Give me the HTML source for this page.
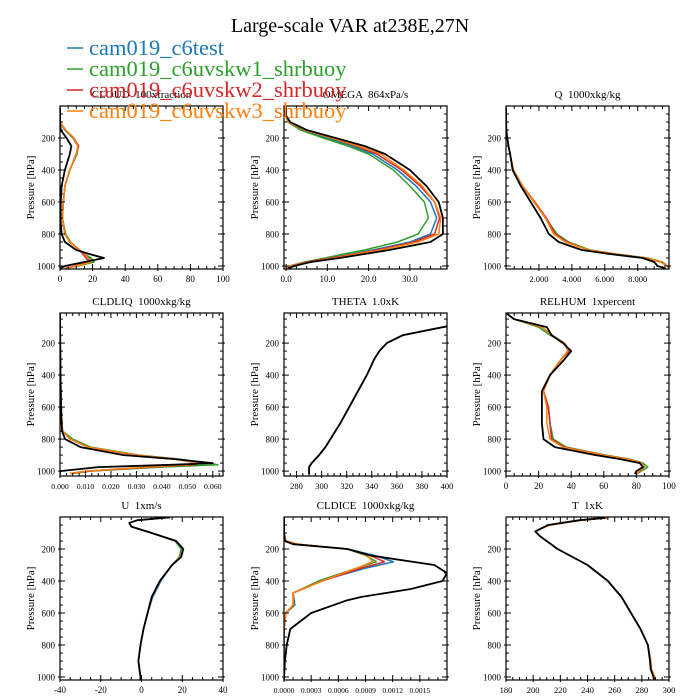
<!DOCTYPE html>
<html><head><meta charset="utf-8"><style>
html,body{margin:0;padding:0;background:#fff;}
svg{display:block;}
text{font-family:"Liberation Serif",serif;fill:#000;white-space:pre;}
.leg{font-family:"Liberation Serif",serif;font-size:22.5px;}
</style></head><body>
<svg id="chart" width="700" height="700" viewBox="0 0 700 700">
<text x="350" y="32" text-anchor="middle" font-size="20">Large-scale VAR at238E,27N</text>
<g id="legend"></g>
<g id="panels"></g>
</svg>
<script>
const runNames = ["cam019_c6test","cam019_c6uvskw1_shrbuoy","cam019_c6uvskw2_shrbuoy","cam019_c6uvskw3_shrbuoy"];
const runColors = ["#1f77b4","#2ca02c","#d62728","#ff7f0e"];

// CLOUD
const cloudP = [10,100,150,200,250,300,400,500,600,700,800,850,900,925,950,975,1000,1015];
const cloudBlue  = [0,0,3,8,11,10,6,3,2,1.5,3,6,12,15,18,19,10,3];
const cloudGreen = [0,0,3,8,11,10.5,6,3,2,1.5,3.5,6.5,12,15,19,21,11,3];
const cloudRed   = [0,0,3.5,8.5,11.5,10,6,3,2,1.5,3,6,12,14,16,18,9,3];
const cloudOrange= [0,0,3.5,8.5,11,10,6,3,2,1.5,3,6,12,15,17,19,10,3];
const cloudObs   = [0,0,0.5,4,7,6,3,1,0.5,0.3,1,3,10,18,27,15,3,0];
// OMEGA
const omegaP = [10,60,100,150,200,250,300,400,500,600,700,800,850,900,925,950,975,1000,1015];
const omegaBlue  = [0,0,0.5,4,10,16,21,27,31.5,35,36.5,35,30,21,16,11,5,1,0];
const omegaGreen = [0,0,0.4,3.5,9,15,20,26,30,33.5,34.5,32,27,19,14,9.5,4.5,0.8,0];
const omegaRed   = [0,0,0.6,4.5,11,17,22,28,32.5,36,37.2,36,31,22,16.5,11,5,1,0];
const omegaOrange= [0,0,0.6,4.5,11,17.5,23,28.5,33,36,37.5,37,32,23,17,12,5.5,1,0];
const omegaObs   = [0,0,1,5,12,19,24,30,34,37,38,38,35,25,19,13,6,2,0.5];
// Q
const qP = [10,100,150,200,250,300,400,500,600,700,800,850,900,925,950,975,1000,1015];
const qBlue  = [0,0.01,0.02,0.08,0.15,0.25,0.45,1.0,1.7,2.4,3.0,3.7,5.0,6.6,8.5,9.4,9.8,9.9];
const qGreen = [0,0.01,0.02,0.08,0.15,0.25,0.45,1.0,1.7,2.4,3.1,3.8,5.1,6.7,8.6,9.5,9.8,9.9];
const qRed   = [0,0.01,0.02,0.08,0.15,0.25,0.45,1.0,1.75,2.45,3.0,3.7,5.0,6.6,8.5,9.4,9.8,9.9];
const qOrange= [0,0.01,0.02,0.08,0.15,0.25,0.45,1.0,1.7,2.4,2.9,3.6,5.0,6.6,8.5,9.4,9.8,9.9];
const qObs   = [0,0.01,0.02,0.08,0.15,0.25,0.4,0.9,1.5,2.1,2.6,3.2,4.6,6.3,8.3,9.0,9.2,9.7];
// CLDLIQ
const liqP = [12,400,600,700,750,800,850,900,925,950,960,975,1000,1015];
const liqBlue  = [0,0.0002,0.0005,0.0008,0.001,0.004,0.011,0.03,0.045,0.055,0.05,0.035,0.01,0.004];
const liqGreen = [0,0.0002,0.0005,0.0008,0.001,0.005,0.012,0.031,0.047,0.058,0.062,0.04,0.012,0.005];
const liqRed   = [0,0.0002,0.0005,0.0008,0.001,0.004,0.011,0.03,0.046,0.056,0.052,0.036,0.011,0.004];
const liqOrange= [0,0.0002,0.0005,0.0008,0.001,0.004,0.011,0.03,0.045,0.054,0.05,0.034,0.01,0.004];
const liqObs   = [0,0.0002,0.0004,0.0006,0.0008,0.002,0.008,0.025,0.045,0.06,0.045,0.015,0,0];
// THETA
const thP = [12,50,95,150,200,250,300,400,500,600,700,800,850,900,925,950,975,1000,1019];
const thBlue  = [700,500,400,365,352,346,342,336,329,322,315,307,303,298,295,292,290,290,290];
const thObs   = [700,500,400,365,352,346,342,336,329,322,315,307,303,298,295,292,290,290,290];
// RELHUM
const rhP = [12,50,100,150,200,250,300,400,500,600,700,800,850,900,925,950,975,1000,1019];
const rhBlue  = [0,5,22,28,36,38,34,27,23,26,27,28,36,60,75,83,85,82,80];
const rhGreen = [0,5,20,27,36,38,34,27,23,26,27,29,37,61,76,84,87,83,80];
const rhRed   = [0,5,22,28,36,39,34,27,23,26,27,28,36,60,75,83,85,82,80];
const rhOrange= [0,5,22,28,36,38,34,27,23,25,25,27,35,59,75,83,85,82,80];
const rhObs   = [0,5,25,28,35,40,36,27,22,22,22,23,30,55,70,82,84,80,79];
// U
const uP = [2,20,37,60,100,150,200,250,300,400,500,600,700,800,900,1000,1015];
const uBlue  = [14,-2,-6,-5,5,17,20,19,15,9.5,5.5,3,1,-0.5,-1.5,-0.5,-0.5];
const uGreen = [14,-2,-6,-5,5,16.5,19.5,18.5,15,9,5,3,1,-0.5,-1.5,-0.5,-0.5];
const uRed   = [14,-2,-6,-5,5,17,20.5,19,15,9,5,3,1,-0.5,-1.5,-0.5,-0.5];
const uOrange= [14,-2,-6,-5,5,17,20.5,19,15,9,5,3,1,-0.5,-1.5,-0.5,-0.5];
const uObs   = [14,-2,-6,-5,5,17,20.5,19.5,15,9,5,3,1,-0.5,-1.5,-0.5,-0.5];
// CLDICE
const iceP = [5,100,150,170,200,240,280,320,400,475,550,600,700,1015];
const iceBlue  = [0,0,0.00002,0.00015,0.0007,0.001,0.00121,0.0009,0.0004,0.0001,0.00012,0.00002,0,0];
const iceGreen = [0,0,0.00002,0.00015,0.0007,0.0009,0.00102,0.0008,0.00038,0.0001,0.00011,0.00002,0,0];
const iceRed   = [0,0,0.00002,0.00015,0.0007,0.00095,0.00111,0.00085,0.00042,0.0001,0.0001,0.00002,0,0];
const iceOrange= [0,0,0.00002,0.00015,0.0007,0.00092,0.00098,0.0008,0.00042,0.0001,0.0001,0.00002,0,0];
const iceP2 = [5,100,150,170,200,240,300,350,400,450,500,520,600,700,800,900,1015];
const iceObs   = [0,0,0.00001,0.0001,0.0007,0.00095,0.00166,0.0018,0.00175,0.0014,0.00085,0.0007,0.0003,0.00007,0.00003,0.00001,0];
// T
const tP = [5,20,50,90,120,200,300,400,500,600,700,800,900,950,1000,1015];
const tBlue  = [255,235,212,201.5,205,218,240,255,265,272,279,284.5,286.5,287,289.5,290];
const tObs   = [253,234,211,201.5,205,218,240,255,265,272,279,284.5,286,286.5,288.5,289];

const panels = [
 {name:"cloud", title:"CLOUD  100xfraction", x0:60,y0:106,xmin:0,xmax:100,pmin:0, ticks:[0,20,40,60,80,100], labels:["0","20","40","60","80","100"], minor:5, fs:9,
  series:[[cloudP,cloudBlue],[cloudP,cloudGreen],[cloudP,cloudRed],[cloudP,cloudOrange],[cloudP,cloudObs]]},
 {name:"omega", title:"OMEGA  864xPa/s", x0:284,y0:106,xmin:-0.5,xmax:39,pmin:0, ticks:[0,10,20,30], labels:["0.0","10.0","20.0","30.0"], minor:2.5, fs:9,
  series:[[omegaP,omegaBlue],[omegaP,omegaGreen],[omegaP,omegaRed],[omegaP,omegaOrange],[omegaP,omegaObs]]},
 {name:"q", title:"Q  1000xkg/kg", x0:506,y0:106,xmin:0,xmax:9.9,pmin:0, ticks:[2,4,6,8], labels:["2.000","4.000","6.000","8.000"], minor:0.5, fs:8.5,
  series:[[qP,qBlue],[qP,qGreen],[qP,qRed],[qP,qOrange],[qP,qObs]]},
 {name:"cldliq", title:"CLDLIQ  1000xkg/kg", x0:60,y0:313,xmin:0,xmax:0.064,pmin:12, ticks:[0,0.01,0.02,0.03,0.04,0.05,0.06], labels:["0.000","0.010","0.020","0.030","0.040","0.050","0.060"], minor:0.0025, fs:7.8,
  series:[[liqP,liqBlue],[liqP,liqGreen],[liqP,liqRed],[liqP,liqOrange],[liqP,liqObs]]},
 {name:"theta", title:"THETA  1.0xK", x0:284,y0:313,xmin:270,xmax:400,pmin:12, ticks:[280,300,320,340,360,380,400], labels:["280","300","320","340","360","380","400"], minor:5, fs:8.5,
  series:[[thP,thBlue],[thP,thBlue],[thP,thBlue],[thP,thBlue],[thP,thObs]]},
 {name:"relhum", title:"RELHUM  1xpercent", x0:506,y0:313,xmin:0,xmax:100,pmin:12, ticks:[0,20,40,60,80,100], labels:["0","20","40","60","80","100"], minor:5, fs:9,
  series:[[rhP,rhBlue],[rhP,rhGreen],[rhP,rhRed],[rhP,rhOrange],[rhP,rhObs]]},
 {name:"u", title:"U  1xm/s", x0:60,y0:517,xmin:-40,xmax:40,pmin:0, ticks:[-40,-20,0,20,40], labels:["-40","-20","0","20","40"], minor:5, fs:9,
  series:[[uP,uBlue],[uP,uGreen],[uP,uRed],[uP,uOrange],[uP,uObs]]},
 {name:"cldice", title:"CLDICE  1000xkg/kg", x0:284,y0:517,xmin:0,xmax:0.0018,pmin:0, ticks:[0,0.0003,0.0006,0.0009,0.0012,0.0015], labels:["0.0000","0.0003","0.0006","0.0009","0.0012","0.0015"], minor:0.0001, fs:7.5,
  series:[[iceP,iceBlue],[iceP,iceGreen],[iceP,iceRed],[iceP,iceOrange],[iceP2,iceObs]]},
 {name:"t", title:"T  1xK", x0:506,y0:517,xmin:180,xmax:300,pmin:0, ticks:[180,200,220,240,260,280,300], labels:["180","200","220","240","260","280","300"], minor:5, fs:8.5,
  series:[[tP,tBlue],[tP,tBlue],[tP,tBlue],[tP,tBlue],[tP,tObs]]}
];
const pTicks = [200,400,600,800,1000];
const pLabels = ["200","400","600","800","1000"];

const NS = "http://www.w3.org/2000/svg";
const W = 163, H = 163, PS = 0.16;
function mk(tag, attrs, parent){ const e=document.createElementNS(NS,tag); for(const k in attrs) e.setAttribute(k,attrs[k]); parent.appendChild(e); return e; }

// legend
const leg = document.getElementById('legend');
runNames.forEach((n,i)=>{
  const y = 55 + i*21;
  const ln = mk('line',{x1:67,x2:83,y1:y-7,y2:y-7,stroke:runColors[i],'stroke-width':1.5},leg);
  
  
  const t = mk('text',{x:89,y:y,'class':'leg',fill:runColors[i]},leg);
  
  
  t.style.fill = runColors[i];
  t.textContent = n;
});

const root = document.getElementById('panels');
const seriesColors = ["#1f77b4","#2ca02c","#d62728","#ff7f0e","#000"];
panels.forEach((pn,pi)=>{
  const g = mk('g',{},root);
  
  
  const xs = v => pn.x0 + (v - pn.xmin)/(pn.xmax - pn.xmin)*W;
  const ys = p => pn.y0 + (p - pn.pmin)*PS;
  const cid = 'clip'+pi;
  const cp = mk('clipPath',{id:cid},g);
  mk('rect',{x:pn.x0,y:pn.y0,width:W,height:H},cp);
  const tt = mk('text',{x:pn.x0+W/2,y:pn.y0-8,'text-anchor':'middle','font-size':11},g);
  
  
  tt.textContent = pn.title;
  const yl = mk('text',{x:0,y:0,'text-anchor':'middle','font-size':11,transform:`translate(${pn.x0-26},${pn.y0+H/2}) rotate(-90)`},g);
  
  
  yl.textContent = 'Pressure [hPa]';
  pn.series.forEach((s,si)=>{
    const [ps, vs] = s;
    let d = '';
    for(let k=0;k<ps.length;k++){ d += (k?'L':'M') + xs(vs[k]).toFixed(1) + ',' + ys(ps[k]).toFixed(1); }
    const path = mk('path',{d:d,fill:'none',stroke:seriesColors[si],'stroke-width':si==4?1.8:1.5,'clip-path':`url(#${cid})`,'stroke-linejoin':'round'},g);
    
    
  });
  const fr = mk('rect',{x:pn.x0,y:pn.y0,width:W,height:H,fill:'none',stroke:'#000','stroke-width':1.2},g);
  
  
  const tk = mk('g',{stroke:'#000','stroke-width':1},g);
  
  
  const start = Math.ceil(pn.xmin/pn.minor - 1e-6);
  for(let k=start; k*pn.minor<=pn.xmax+1e-12; k++){
    const v = k*pn.minor;
    const isMaj = pn.ticks.some(t=>Math.abs(t-v)<pn.minor*0.01);
    const L = isMaj?5:3; const x = xs(v);
    mk('line',{x1:x,x2:x,y1:pn.y0+H+(isMaj?2:0),y2:pn.y0+H-L},tk);
    mk('line',{x1:x,x2:x,y1:pn.y0,y2:pn.y0+L},tk);
  }
  pn.ticks.forEach((t,k)=>{
    const lb = mk('text',{x:xs(t),y:pn.y0+H+13,'text-anchor':'middle','font-size':pn.fs},g);
    
    
    lb.textContent = pn.labels[k];
  });
  for(let p=50;p<=1000;p+=50){
    if(p<pn.pmin) continue;
    const isMaj = p%200===0; const L = isMaj?5:3; const y = ys(p);
    mk('line',{x1:pn.x0-(isMaj?2:0),x2:pn.x0+L,y1:y,y2:y},tk);
    mk('line',{x1:pn.x0+W+(isMaj?2:0),x2:pn.x0+W-L,y1:y,y2:y},tk);
  }
  pTicks.forEach((p,k)=>{
    const lb = mk('text',{x:pn.x0-5,y:ys(p)+3.5,'text-anchor':'end','font-size':9},g);
    
    
    lb.textContent = pLabels[k];
  });
});
document.getElementById('chart').appendChild(leg);
</script>
</body></html>
